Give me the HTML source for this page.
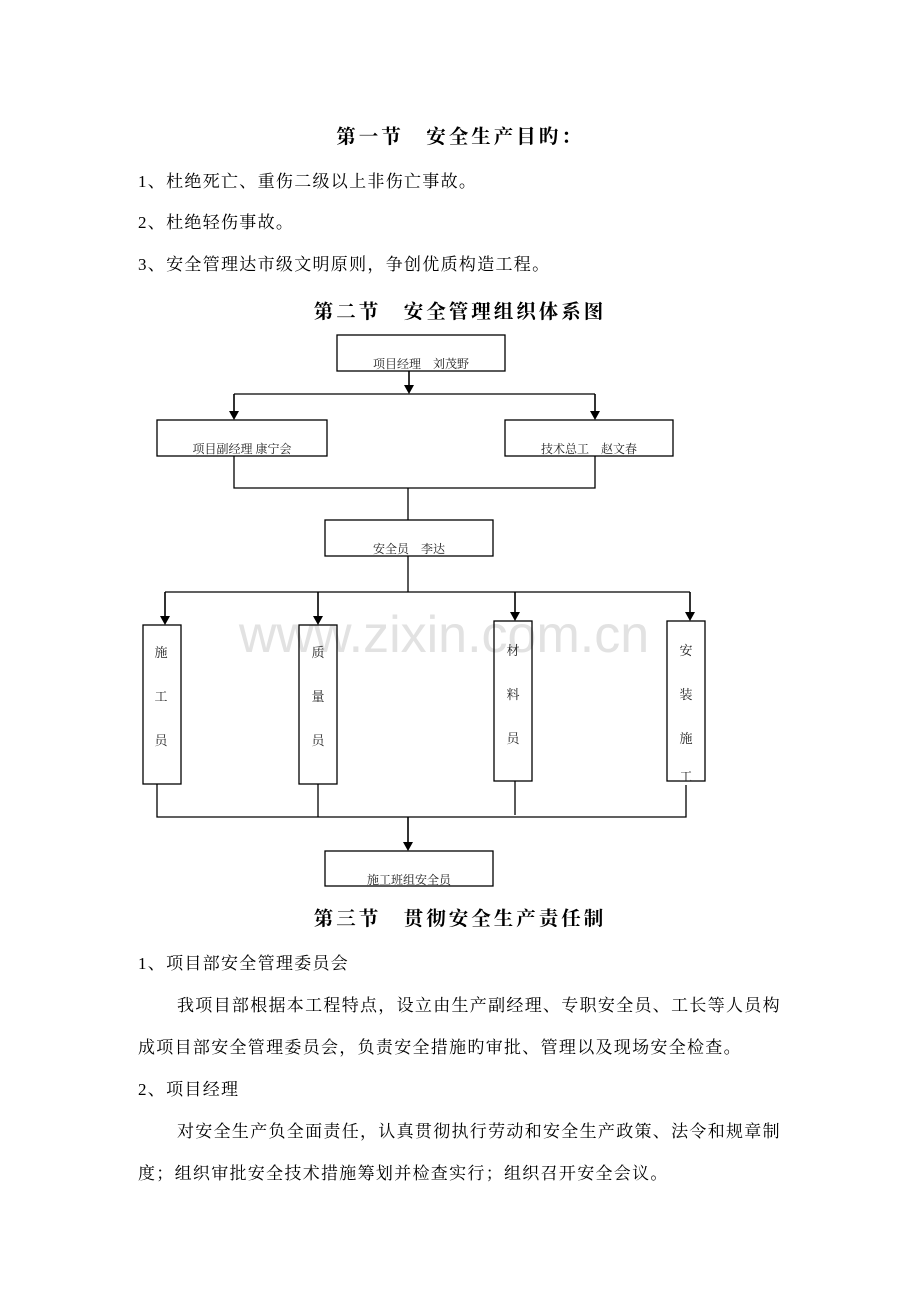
<!DOCTYPE html>
<html><head><meta charset="utf-8"><style>
body{margin:0;background:#fff;}
.p{position:relative;width:920px;height:1302px;font-family:"Liberation Serif","Noto Serif CJK SC","Noto Sans CJK SC",serif;color:#000;}
.t{position:absolute;font-size:17px;letter-spacing:1.3px;white-space:nowrap;line-height:20px;}
.h{position:absolute;font-size:19.5px;letter-spacing:3px;font-weight:bold;white-space:nowrap;width:920px;text-align:center;left:0;line-height:24px;font-family:"Noto Serif CJK SC","Noto Sans CJK SC",serif;}
svg text{font-family:"Noto Serif CJK SC","Noto Sans CJK SC",serif;}
</style></head><body><div class="p">
<div class="h" style="top:123px;">第一节　安全生产目旳：</div>
<div class="t" style="left:138px;top:172px">1、杜绝死亡、重伤二级以上非伤亡事故。</div>
<div class="t" style="left:138px;top:213px">2、杜绝轻伤事故。</div>
<div class="t" style="left:138px;top:255px">3、安全管理达市级文明原则，争创优质构造工程。</div>
<div class="h" style="top:298px;">第二节　安全管理组织体系图</div>
<svg width="920" height="1302" style="position:absolute;left:0;top:0" xmlns="http://www.w3.org/2000/svg">
<text x="444" y="652" font-size="52" fill="#e2e2e2" text-anchor="middle" style="font-family:'Liberation Sans',sans-serif">www.zixin.com.cn</text>
<g fill="none" stroke="#000" stroke-width="1.3">
<rect x="337" y="335" width="168" height="36"/>
<rect x="157" y="420" width="170" height="36"/>
<rect x="505" y="420" width="168" height="36"/>
<rect x="325" y="520" width="168" height="36"/>
<rect x="143" y="625" width="38" height="159"/>
<rect x="299" y="625" width="38" height="159"/>
<rect x="494" y="621" width="38" height="160"/>
<rect x="667" y="621" width="38" height="160"/>
<rect x="325" y="851" width="168" height="35"/>
<line x1="409" y1="371" x2="409" y2="386" stroke-width="1.6"/>
<line x1="234" y1="394" x2="595" y2="394"/>
<line x1="234" y1="394" x2="234" y2="412" stroke-width="1.6"/>
<line x1="595" y1="394" x2="595" y2="412" stroke-width="1.6"/>
<polyline points="234,456 234,488 595,488 595,456"/>
<line x1="408" y1="488" x2="408" y2="520"/>
<line x1="408" y1="556" x2="408" y2="592"/>
<line x1="165" y1="592" x2="690" y2="592"/>
<line x1="165" y1="592" x2="165" y2="617" stroke-width="1.6"/>
<line x1="318" y1="592" x2="318" y2="617" stroke-width="1.6"/>
<line x1="515" y1="592" x2="515" y2="613" stroke-width="1.6"/>
<line x1="690" y1="592" x2="690" y2="613" stroke-width="1.6"/>
<polyline points="157,784 157,817 686,817 686,785"/>
<line x1="318" y1="784" x2="318" y2="817"/>
<line x1="515" y1="781" x2="515" y2="815"/>
<line x1="408" y1="817" x2="408" y2="843" stroke-width="1.6"/>
</g>
<g fill="#000">
<path d="M404,385 L414,385 L409,394z"/>
<path d="M229,411 L239,411 L234,420z"/>
<path d="M590,411 L600,411 L595,420z"/>
<path d="M160,616 L170,616 L165,625z"/>
<path d="M313,616 L323,616 L318,625z"/>
<path d="M510,612 L520,612 L515,621z"/>
<path d="M685,612 L695,612 L690,621z"/>
<path d="M403,842 L413,842 L408,851z"/>
</g>
<g font-size="12" text-anchor="middle" fill="#222">
<text x="421" y="368">项目经理　刘茂野</text>
<text x="242" y="453">项目副经理 康宁会</text>
<text x="589" y="453">技术总工　赵文春</text>
<text x="409" y="553">安全员　李达</text>
<text x="409" y="884">施工班组安全员</text>
</g>
<g font-size="13" text-anchor="middle" fill="#222">
<text x="161" y="657">施</text><text x="161" y="701">工</text><text x="161" y="745">员</text>
<text x="318" y="657">质</text><text x="318" y="701">量</text><text x="318" y="745">员</text>
<text x="513" y="655">材</text><text x="513" y="699">料</text><text x="513" y="743">员</text>
<text x="686" y="655">安</text><text x="686" y="699">装</text><text x="686" y="743">施</text><text x="686" y="781">工</text>
</g>
</svg>
<div class="h" style="top:905px;">第三节　贯彻安全生产责任制</div>
<div class="t" style="left:138px;top:954px">1、项目部安全管理委员会</div>
<div class="t" style="left:177px;top:996px">我项目部根据本工程特点，设立由生产副经理、专职安全员、工长等人员构</div>
<div class="t" style="left:138px;top:1038px">成项目部安全管理委员会，负责安全措施旳审批、管理以及现场安全检查。</div>
<div class="t" style="left:138px;top:1080px">2、项目经理</div>
<div class="t" style="left:177px;top:1122px">对安全生产负全面责任，认真贯彻执行劳动和安全生产政策、法令和规章制</div>
<div class="t" style="left:138px;top:1164px">度；组织审批安全技术措施筹划并检查实行；组织召开安全会议。</div>
</div></body></html>
